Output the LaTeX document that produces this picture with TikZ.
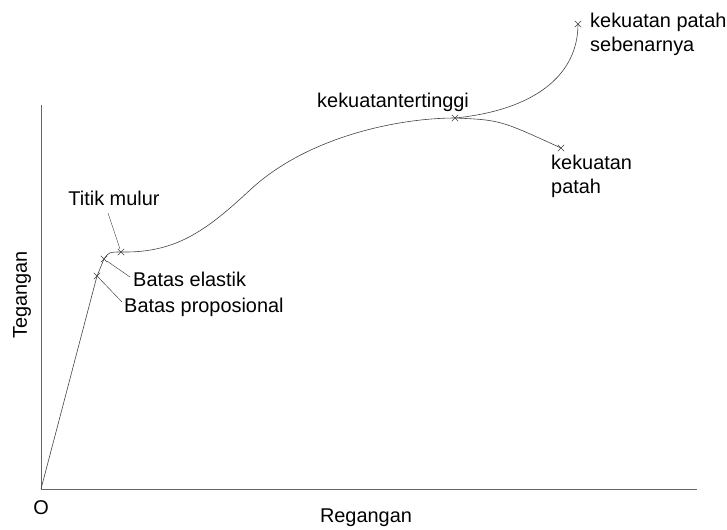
\documentclass[tikz,border=0pt]{standalone}
\usepackage{fontspec}
\setmainfont{Liberation Sans}
\usetikzlibrary{positioning, shapes.misc}
\tikzset{
  axis/.style={draw=black!60, line width=0.8pt},
  curve/.style={draw=black!75, line width=0.5pt},
  xmark/.style={cross out, draw=black!75, line width=0.4pt, minimum size=5pt, inner sep=0pt},
  leader/.style={draw=black!75, line width=0.4pt},
  lbl/.style={font=\fontsize{17}{20.5}\selectfont, inner sep=0pt, align=left}
}

\begin{document}
\begin{tikzpicture}[x=0.03cm, y=-0.03cm]
\useasboundingbox (0,0) rectangle (727,529);

% axes
\coordinate (O) at (41,489);
\coordinate (ytop) at (41,105);
\coordinate (xend) at (697,489);
\draw[axis] (ytop) -- (O) -- (xend);
\node[lbl] (olabel) at (41,508) {O};
\node[lbl] (xlabel) at (366,518) {Regangan};
\node[lbl, rotate=90] (ylabel) at (22,295) {Tegangan};

% points on the curve
\node[xmark] (prop) at (97,276) {};
\node[xmark] (elastik) at (104,259) {};
\node[xmark] (mulur) at (121,252) {};
\node[xmark] (tinggi) at (455,118) {};
\node[xmark] (sebenar) at (578,24) {};
\node[xmark] (patah) at (561,148) {};

% curve
\draw[curve] (O) -- (prop.center) .. controls (100,267) .. (elastik.center)
  .. controls (109,252) .. (mulur.center)
  .. controls (175,253) and (205,232) .. (250,190)
  .. controls (308,136) and (400,118) .. (tinggi.center);
\draw[curve] (tinggi.center) .. controls (535,110) and (578,75) .. (sebenar.center);
\draw[curve] (tinggi.center) .. controls (500,120) .. (patah.center);

% labels
\node[lbl] (mulurlbl) at (114,198) {Titik mulur};
\node[lbl, anchor=west] (elastiklbl) at (133,279) {Batas elastik};
\node[lbl, anchor=west] (proplbl) at (124,307) {Batas proposional};
\node[lbl, anchor=west] (tinggilbl) at (317,102) {kekuatantertinggi};
\node[lbl, anchor=west] (sebenarlbl) at (590,34) {kekuatan patah\\sebenarnya};
\node[lbl, anchor=west] (patahlbl) at (551,176) {kekuatan\\patah};

\coordinate (mulurend) at (108,213);
\coordinate (elastikend) at (130,277);
\coordinate (propend) at (122,302);
\draw[leader] (mulurend) -- (mulur);
\draw[leader] (elastikend) -- (elastik);
\draw[leader] (propend) -- (prop);
\end{tikzpicture}
\end{document}
